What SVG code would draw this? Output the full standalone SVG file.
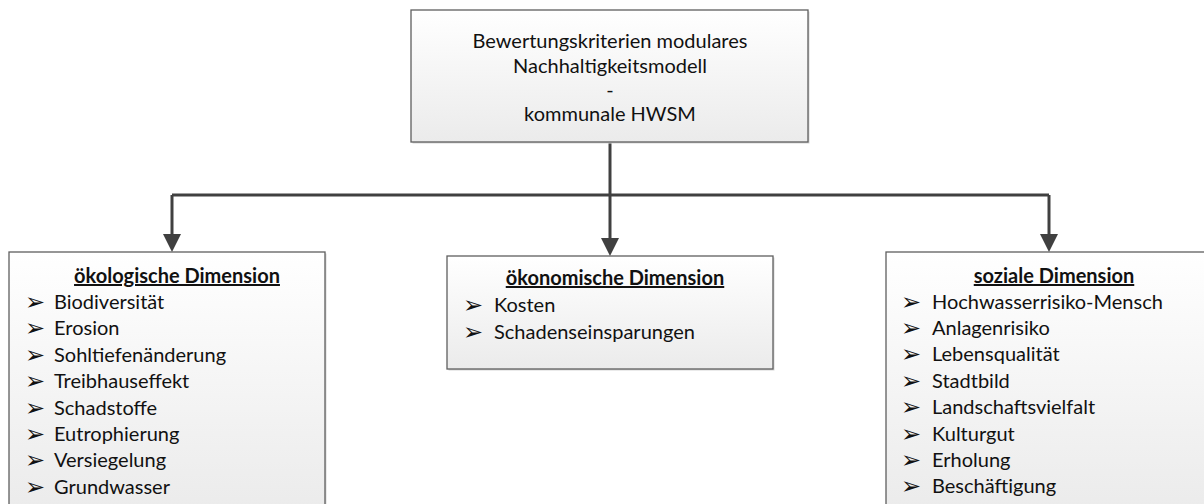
<svg xmlns="http://www.w3.org/2000/svg" width="1204" height="504" viewBox="0 0 1204 504">
  <style>
    .box { fill: url(#boxFill); stroke: #5f5f5f; stroke-width: 1.3; }
    .shadow { fill: #d6d6d6; }
    .t { font-family: Lato, "Open Sans", sans-serif; font-size: 20px; fill: #111; }
    .title { text-anchor: middle; }
    .head { font-weight: bold; text-anchor: middle; text-decoration: underline; }
    .bul { font-family: "DejaVu Sans", sans-serif; font-size: 24px; fill: #111; }
    .link { fill: none; stroke: #404040; stroke-width: 3; }
    .tip { fill: #404040; }
  </style>
  <defs>
    <linearGradient id="boxFill" x1="0" y1="0" x2="0" y2="1">
      <stop offset="0" stop-color="#ffffff"/>
      <stop offset="1" stop-color="#ebebeb"/>
    </linearGradient>
  </defs>

  <!-- connectors: trunk, bus and three drops with arrowheads -->
  <g id="connectors">
    <path class="link" d="M610,143 V195"/>
    <path class="link" d="M172,195 H1049"/>
    <path class="link" d="M172,195 V236"/>
    <path class="link" d="M610,195 V240"/>
    <path class="link" d="M1049,195 V236"/>
    <path class="tip" d="M163,234 L181,234 L172,252 Z"/>
    <path class="tip" d="M601,238 L619,238 L610,256 Z"/>
    <path class="tip" d="M1040,234 L1058,234 L1049,252 Z"/>
  </g>

  <!-- root node -->
  <g id="root">
    <rect class="shadow" x="412.5" y="11.5" width="397" height="132"/>
    <rect class="box" x="411" y="10" width="397" height="132"/>
    <text class="t title" x="610" y="48">Bewertungskriterien modulares</text>
    <text class="t title" x="610" y="72.5">Nachhaltigkeitsmodell</text>
    <text class="t title" x="610" y="97">-</text>
    <text class="t title" x="610" y="121">kommunale HWSM</text>
  </g>

  <!-- ecological dimension -->
  <g id="oekologisch">
    <rect class="shadow" x="10.5" y="253.5" width="316" height="260"/>
    <rect class="box" x="9" y="252" width="316" height="260"/>
    <text class="t head" x="177" y="283">ökologische Dimension</text>
    <g class="bul">
      <text x="25" y="310">➢</text>
      <text x="25" y="336.4">➢</text>
      <text x="25" y="362.8">➢</text>
      <text x="25" y="389.2">➢</text>
      <text x="25" y="415.6">➢</text>
      <text x="25" y="442">➢</text>
      <text x="25" y="468.4">➢</text>
      <text x="25" y="494.8">➢</text>
    </g>
    <text class="t" x="54" y="309">Biodiversität</text>
    <text class="t" x="54" y="335.4">Erosion</text>
    <text class="t" x="54" y="361.8">Sohltiefenänderung</text>
    <text class="t" x="54" y="388.2">Treibhauseffekt</text>
    <text class="t" x="54" y="414.6">Schadstoffe</text>
    <text class="t" x="54" y="441">Eutrophierung</text>
    <text class="t" x="54" y="467.4">Versiegelung</text>
    <text class="t" x="54" y="493.8">Grundwasser</text>
  </g>

  <!-- economic dimension -->
  <g id="oekonomisch">
    <rect class="shadow" x="448.5" y="257.5" width="326" height="113"/>
    <rect class="box" x="447" y="256" width="326" height="113"/>
    <text class="t head" x="615" y="285">ökonomische Dimension</text>
    <g class="bul">
      <text x="463" y="312.5">➢</text>
      <text x="463" y="339.5">➢</text>
    </g>
    <text class="t" x="494" y="311.5">Kosten</text>
    <text class="t" x="494" y="338.5">Schadenseinsparungen</text>
  </g>

  <!-- social dimension -->
  <g id="sozial">
    <rect class="shadow" x="887.5" y="253.5" width="320" height="260"/>
    <rect class="box" x="886" y="252" width="320" height="260"/>
    <text class="t head" x="1054" y="283">soziale Dimension</text>
    <g class="bul">
      <text x="901" y="309.5">➢</text>
      <text x="901" y="335.9">➢</text>
      <text x="901" y="362.3">➢</text>
      <text x="901" y="388.7">➢</text>
      <text x="901" y="415.1">➢</text>
      <text x="901" y="441.5">➢</text>
      <text x="901" y="467.9">➢</text>
      <text x="901" y="494.3">➢</text>
    </g>
    <text class="t" x="932" y="308.5">Hochwasserrisiko-Mensch</text>
    <text class="t" x="932" y="334.9">Anlagenrisiko</text>
    <text class="t" x="932" y="361.3">Lebensqualität</text>
    <text class="t" x="932" y="387.7">Stadtbild</text>
    <text class="t" x="932" y="414.1">Landschaftsvielfalt</text>
    <text class="t" x="932" y="440.5">Kulturgut</text>
    <text class="t" x="932" y="466.9">Erholung</text>
    <text class="t" x="932" y="493.3">Beschäftigung</text>
  </g>
</svg>
